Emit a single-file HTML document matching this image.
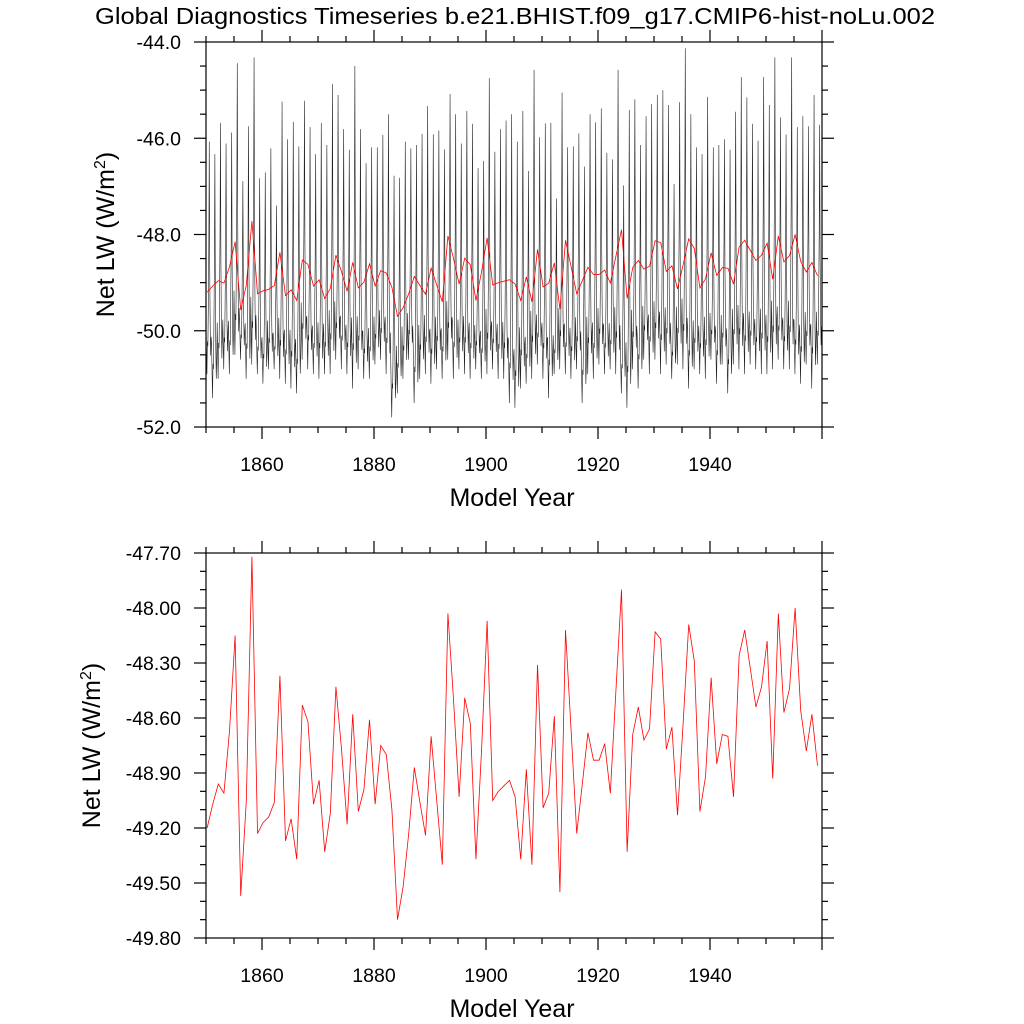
<!DOCTYPE html>
<html><head><meta charset="utf-8"><style>
html,body{margin:0;padding:0;background:#fff;}
svg{display:block;font-family:"Liberation Sans",sans-serif;}
</style></head><body>
<svg id="chart" width="1024" height="1024" viewBox="0 0 1024 1024" xmlns="http://www.w3.org/2000/svg">
<rect width="1024" height="1024" fill="#fff"/>
<text x="515" y="24" font-size="23" text-anchor="middle" textLength="840" lengthAdjust="spacingAndGlyphs">Global Diagnostics Timeseries b.e21.BHIST.f09_g17.CMIP6-hist-noLu.002</text>
<g id="top"></g>
<g id="bot"></g>
</svg>
<script>
const annualMean = [-49.20,-49.07,-48.96,-49.01,-48.67,-48.15,-49.57,-49.05,-47.72,-49.23,-49.17,-49.14,-49.06,-48.37,-49.27,-49.15,-49.37,-48.53,-48.62,-49.07,-48.94,-49.33,-49.12,-48.43,-48.77,-49.18,-48.58,-49.11,-48.99,-48.61,-49.07,-48.75,-48.80,-49.10,-49.70,-49.52,-49.23,-48.87,-49.06,-49.24,-48.70,-49.05,-49.40,-48.03,-48.50,-49.03,-48.49,-48.63,-49.37,-48.78,-48.07,-49.05,-49.00,-48.97,-48.94,-49.03,-49.37,-48.88,-49.40,-48.31,-49.09,-49.01,-48.59,-49.55,-48.12,-48.67,-49.23,-48.96,-48.68,-48.83,-48.83,-48.74,-49.01,-48.45,-47.90,-49.33,-48.69,-48.54,-48.72,-48.66,-48.13,-48.17,-48.77,-48.65,-49.13,-48.63,-48.09,-48.29,-49.11,-48.92,-48.38,-48.85,-48.69,-48.70,-49.03,-48.26,-48.12,-48.33,-48.54,-48.43,-48.18,-48.93,-48.03,-48.57,-48.44,-48.00,-48.56,-48.78,-48.58,-48.86];
const yearPeak = [-46.07,-46.33,-45.68,-46.11,-45.88,-44.44,-46.89,-45.75,-44.32,-46.83,-46.71,-46.21,-47.40,-45.24,-46.02,-45.66,-46.17,-45.22,-45.77,-46.33,-45.68,-46.14,-44.87,-45.10,-45.81,-46.24,-44.50,-45.81,-46.52,-46.19,-46.19,-45.93,-45.50,-46.78,-46.82,-46.07,-46.21,-46.14,-45.91,-45.33,-45.92,-45.84,-46.23,-45.08,-45.50,-46.11,-45.43,-45.70,-46.62,-46.47,-44.75,-46.28,-45.81,-45.63,-45.50,-46.07,-45.43,-46.68,-44.58,-45.98,-45.69,-45.68,-47.25,-45.05,-46.19,-46.17,-45.90,-46.59,-45.50,-45.67,-45.38,-46.30,-46.44,-44.58,-46.98,-45.41,-45.19,-46.14,-45.54,-45.29,-45.10,-45.00,-45.31,-46.95,-45.25,-44.13,-45.50,-46.19,-46.33,-45.14,-46.19,-46.14,-46.02,-46.24,-45.45,-44.73,-45.15,-45.70,-46.05,-44.73,-45.31,-44.32,-45.57,-45.92,-44.32,-45.77,-45.54,-45.75,-45.10,-45.72];
const yearLow = [-50.9,-51.4,-51.0,-50.8,-50.9,-50.5,-50.6,-51.0,-50.7,-50.9,-51.1,-50.8,-50.8,-51.0,-51.1,-51.2,-51.3,-50.6,-50.8,-50.9,-51.0,-50.9,-50.9,-50.6,-50.8,-50.9,-51.2,-50.8,-51.0,-51.0,-50.7,-50.6,-50.9,-51.8,-51.3,-51.0,-50.6,-51.5,-51.0,-50.9,-51.1,-50.8,-51.0,-50.6,-51.0,-50.8,-50.9,-51.0,-50.8,-51.0,-50.9,-50.8,-51.0,-51.0,-51.5,-51.6,-51.2,-51.1,-51.0,-50.7,-51.0,-51.4,-50.9,-50.8,-50.9,-51.0,-50.8,-51.5,-50.9,-51.0,-50.7,-50.9,-50.8,-50.9,-51.3,-51.6,-50.8,-51.2,-50.6,-50.9,-50.6,-50.9,-50.7,-51.0,-50.7,-50.8,-51.2,-50.8,-50.9,-51.0,-50.6,-51.1,-50.7,-51.3,-50.7,-50.8,-50.9,-50.7,-50.8,-50.9,-50.9,-50.8,-50.6,-50.8,-50.8,-50.9,-51.1,-50.7,-51.2,-50.7];
const seasonShape = [0.22,0.10,0.0,0.14,0.12,0.30,0.55,1.00,0.45,0.20,0.08,0.16];
const xTicks = [1860,1880,1900,1920,1940];
const topTicks = ["-44.0","-46.0","-48.0","-50.0","-52.0"];
const botTicks = ["-47.70","-48.00","-48.30","-48.60","-48.90","-49.20","-49.50","-49.80"];
const startYear = 1850;

const NS="http://www.w3.org/2000/svg";
function mk(tag, attrs, parent){const e=document.createElementNS(NS,tag);for(const k in attrs)e.setAttribute(k,attrs[k]);parent.appendChild(e);return e;}
const L=206, R=822, X0=1850, X1=1960;
const xs = v => L + (v-X0)/(X1-X0)*(R-L);

function panel(g, T, B, ymax, ymin, yticks, minorStep, titleX, prefix){
  const ys = v => T + (ymax-v)/(ymax-ymin)*(B-T);
  const tg=mk('g',{stroke:'#000','stroke-width':1.2},g);
  
  
  for(let yr=1850; yr<=1960; yr+=5){
    const len = (yr%20===0)?12:6; const x=xs(yr);
    mk('line',{x1:x,x2:x,y1:B,y2:B+len},tg);
    mk('line',{x1:x,x2:x,y1:T,y2:T-len},tg);
  }
  const nMin = Math.round((ymax-ymin)/minorStep);
  const majEvery = Math.round(((ymax-ymin)/(yticks.length-1))/minorStep);
  for(let k=0;k<=nMin;k++){
    const y = T + k/nMin*(B-T); const len = (k%majEvery===0)?12:6;
    mk('line',{x1:L,x2:L-len,y1:y,y2:y},tg);
    mk('line',{x1:R,x2:R+len,y1:y,y2:y},tg);
  }
  yticks.forEach(t=>{
    const tx=mk('text',{x:181,y:ys(parseFloat(t))+7,'font-size':19.5,'text-anchor':'end'},g);
    
    
    tx.textContent=t;
  });
  xTicks.forEach(t=>{
    const tx=mk('text',{x:xs(t),y:B+44,'font-size':19.5,'text-anchor':'middle'},g);
    
    
    tx.textContent=t;
  });
  const xt=mk('text',{x:(L+R)/2-2,y:B+79,'font-size':25,'text-anchor':'middle'},g);
  
  
  xt.textContent='Model Year';
  const yt=mk('text',{x:0,y:0,'font-size':25,'text-anchor':'middle',transform:`translate(${titleX},${(T+B)/2}) rotate(-90)`},g);
  
  
  yt.innerHTML='Net LW (W/m<tspan dy="-9" font-size="16">2</tspan><tspan dy="9">)</tspan>';
  return ys;
}

const topG=document.getElementById('top');
const ysT = panel(topG,42,427,-44,-52,topTicks,0.5,114,'top');
let md='';
yearPeak.forEach((pk,i)=>{
  const lo=yearLow[i];
  seasonShape.forEach((s,m)=>{
    const v = lo + (pk-lo)*s;
    const x = xs(startYear + i + m/12);
    md += (md?'L':'M')+x.toFixed(2)+','+ysT(v).toFixed(2);
  });
});
const mp=mk('path',{d:md,fill:'none',stroke:'#222','stroke-width':0.6},topG);


let ad='';
annualMean.forEach((v,i)=>{ad+=(i?'L':'M')+xs(startYear+0.2+i).toFixed(2)+','+ysT(v).toFixed(2);});
const ap=mk('path',{d:ad,fill:'none',stroke:'#ff0000','stroke-width':0.8},topG);


const f1=mk('rect',{x:L,y:42,width:R-L,height:385,fill:'none',stroke:'#000','stroke-width':1.2},topG);



const botG=document.getElementById('bot');
const ysB = panel(botG,553,938,-47.7,-49.8,botTicks,0.1,100,'bottom');
let bd='';
annualMean.forEach((v,i)=>{bd+=(i?'L':'M')+xs(startYear+0.2+i).toFixed(2)+','+ysB(v).toFixed(2);});
const bp=mk('path',{d:bd,fill:'none',stroke:'#ff0000','stroke-width':0.8},botG);


const f2=mk('rect',{x:L,y:553,width:R-L,height:385,fill:'none',stroke:'#000','stroke-width':1.2},botG);


</script>
</body></html>
